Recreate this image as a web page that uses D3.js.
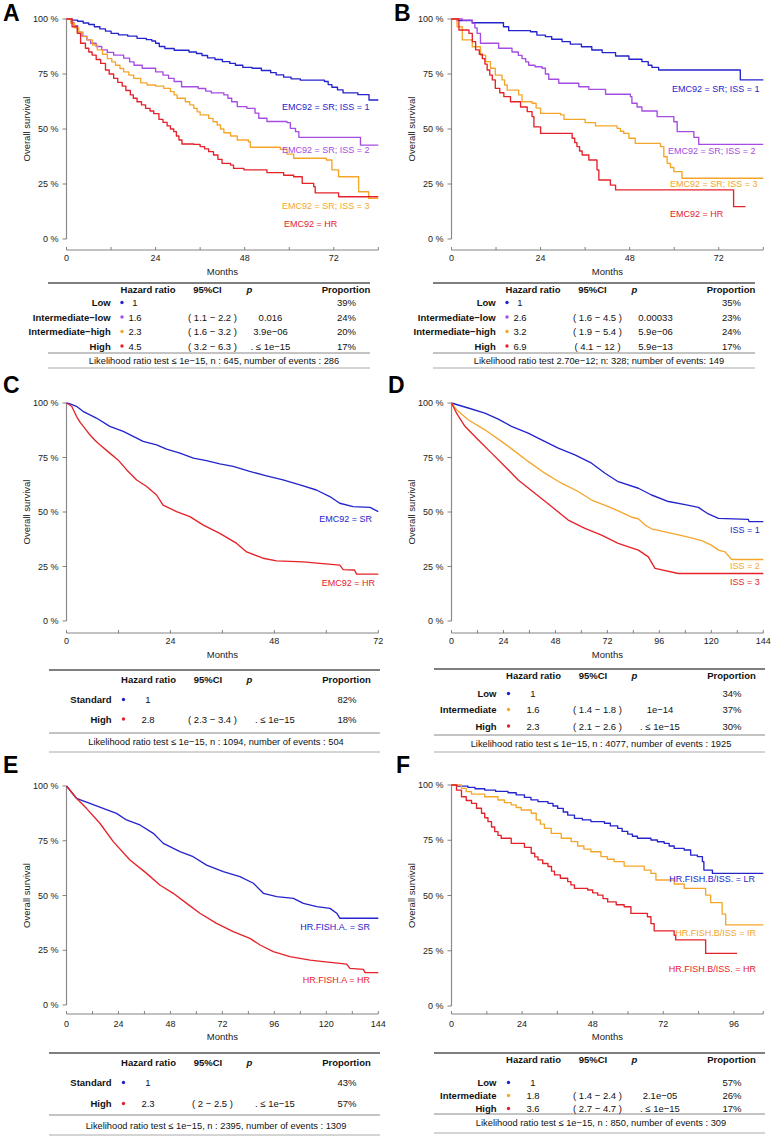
<!DOCTYPE html>
<html><head><meta charset="utf-8">
<script src="https://cdn.jsdelivr.net/npm/d3@7"></script>
<style>
body{margin:0;background:#fff}
svg{display:block}
text{font-family:"Liberation Sans",Arial,Helvetica,sans-serif}
</style>
</head><body>
<svg id="chart" width="774" height="1137"></svg>
<script>
// ---------------- DATA ----------------
const COL_BLUE = "#2424cc", COL_PURPLE = "#a64ce4", COL_ORANGE = "#f5a62a", COL_RED = "#e5222a";

const yTickValues = [0, 25, 50, 75, 100];
const yTickLabels = ["0 %", "25 %", "50 %", "75 %", "100 %"];

// Panel A
const A_iss1 = [[0,100],[1.5,99.5],[3,99],[4.5,98.2],[6,97.5],[7.5,96.5],[9,95.5],[10.5,94.5],[12,93.5],[14,92.8],[16.5,92.2],[19,91.2],[21.5,90.6],[23,90],[24,89],[25,87.5],[26.5,86.6],[29,85.8],[33,85],[35,84.3],[36.5,83.4],[38,82.3],[40,81.6],[42,80.6],[44,79.8],[45.5,79],[47.5,78],[50,77.6],[52.5,76.6],[55,75.6],[56.5,74.6],[58.5,73.6],[60.5,72.8],[63,72.2],[69.5,71.6],[70.5,70.2],[71.5,69],[73,67.8],[74.5,66.4],[78.5,65.6],[81.5,63.2],[84,63.2]];
const A_iss2 = [[0,100],[1.2,98.5],[2,97],[3,94],[4.2,92.2],[5.5,90.5],[6.5,89],[8,87.5],[9.5,86],[11,84.8],[12.7,83.6],[15.4,82.2],[17,80.5],[18.2,79],[20.4,77.6],[24,76],[26,74.5],[27.5,73],[29,71.6],[31,69.2],[35.5,68.4],[37.5,67.2],[39,66.4],[42.4,65.5],[43.5,64],[44.5,62.4],[46,60.2],[48.6,59.4],[50.8,57.2],[51.8,54.9],[54,53.4],[59.4,52.9],[60.3,50.3],[61.7,48.8],[62.6,46.2],[79.2,42.7],[84,42.7]];
const A_iss3 = [[0,100],[1.2,98],[2.2,96],[3.3,94],[4.5,92],[5.6,90.5],[7,88.2],[8.3,86],[9.7,84],[11,82],[12.2,80.5],[13.2,79],[14.4,77.5],[15.4,76],[16.8,74.5],[18.1,73],[20,71],[21.7,70],[24,69.5],[26.2,68.5],[28,67],[29,65.5],[29.8,64],[32,62.4],[33.2,61],[34.3,59.4],[35.2,57.8],[36,56.4],[38.3,54.8],[39.5,53.3],[40.6,51.8],[41.5,50],[42.4,48.3],[44.2,46.8],[46,45],[49,44.2],[49.5,41.7],[57.6,40.8],[59.4,38.6],[61.2,36.7],[70,35.9],[71.5,31.4],[73.3,28.3],[78.7,21.5],[81.4,18.5],[84,18.5]];
const A_hr = [[0,100],[1.5,96.5],[2.9,93.5],[3.8,89],[5.1,86.7],[6,85],[6.9,83.6],[8,81.6],[9.2,79.8],[10.5,76.8],[11.5,75],[12.7,73],[13.8,71.2],[15,69.5],[16,67.5],[17.2,65.5],[18,64],[19,62.4],[20.2,61],[21.3,59.4],[22.5,58.2],[23.5,57],[24.9,54.4],[26,53],[27.1,51.4],[28,50],[28.9,48.8],[29.6,46.8],[30.3,45],[31.1,43.2],[34.3,43],[36,42],[37.2,41],[38.3,39.7],[39.6,38.2],[40.8,36.2],[41.9,34.4],[44.2,33.6],[45,32.1],[47.8,31.4],[54,30.2],[58.5,29],[61.2,28.3],[63.5,25.3],[66.6,23.8],[67,21],[73.3,19.2],[84,19.2]];

// Panel B
const B_iss1 = [[0,100],[1.5,99.3],[5.6,98.3],[14,96.5],[15.4,94.7],[21.3,94.2],[23,92.7],[25.3,92],[27,90.8],[29.8,89.7],[32,88.6],[35,87.4],[37.8,85.9],[40.6,84.7],[44.2,83.2],[47.8,81.7],[51.3,80.6],[53,79],[54,78],[55.8,76.8],[77.8,72.3],[84,72.3]];
const B_iss2 = [[0,100],[2.9,99.5],[5.6,98],[6.3,96],[6.9,93.5],[7.8,89],[12.7,86.7],[16.3,85],[18,83.5],[19,82],[20,80.5],[20.8,79],[22.5,78.3],[24.4,77.6],[25.3,75],[26.2,72.6],[28.9,70.8],[34.3,69.2],[37,68],[41.5,65.8],[48.2,64.7],[48.6,61.7],[50,60],[51.3,58.2],[55.4,55.6],[59.9,53.3],[60.8,48.8],[65.3,46.2],[66.6,43],[84,43]];
const B_iss3 = [[0,100],[1.5,96.5],[2.9,90.5],[5.6,87.4],[7.8,83.6],[9.2,80.6],[10.5,77.6],[11.8,74.5],[13.6,72.3],[14.3,70],[15,67.7],[18.1,65.5],[19,62.4],[21.7,61.7],[22.8,59.5],[24,57.1],[29.4,56.4],[30.3,54.4],[36,52.9],[38.8,51.4],[44.6,50.3],[45.5,49],[46.4,48],[47.8,45.8],[49.5,43.5],[56.3,42],[57.2,37.4],[58.1,34.4],[59,32.5],[59.9,30.6],[62.1,27.6],[84,27.6]];
const B_hr = [[0,100],[2,95],[4.7,93.5],[5.6,89.7],[6.5,86],[7.5,84],[8.3,82],[9,79.5],[9.6,76.8],[10.3,74.5],[11,72.3],[11.8,68.5],[13,66.5],[14.1,64.7],[15.9,62.4],[18.6,60],[20.4,57.9],[21.7,55.6],[22.2,51],[24,48],[32.5,45.8],[33.2,43.8],[33.8,42],[34.5,40],[35.2,38.2],[37,35.9],[39.2,31.4],[39.7,26.8],[42.8,24.5],[44.2,22.3],[76,14.7],[79.2,14.7]];

// Panel C
const C_sr = [[0,100],[1,99.5],[2.3,98.5],[3.8,96.2],[6.9,93.1],[10,89.3],[13.1,87],[15.4,84.7],[17.7,82.4],[20.8,80.8],[23.1,78.8],[26.2,77],[29.3,74.7],[32.3,73.6],[35.4,72.1],[38.5,70.9],[42.3,68.6],[46.2,66.6],[50,64.7],[53.9,62.4],[57.7,60.1],[60.8,57.1],[63.1,54],[66.2,52.5],[70.1,52.1],[72,50.2]];
const C_hr = [[0,100],[1.2,98.5],[2.3,93.9],[3.2,91],[4.2,88.5],[5.4,85.4],[6.5,83],[7.7,80.8],[10,77],[11.9,73.9],[13.9,69.3],[16.2,64.7],[18.5,61.7],[20.8,57.8],[22.3,53.2],[25.4,50.2],[28.5,47.9],[31.6,44],[35.4,40.2],[39.3,35.6],[41.6,31.7],[45.4,28.8],[48.5,27.6],[54.7,27.1],[58.5,26.4],[63.1,25.6],[63.9,23.6],[66.5,23.4],[67,21.5],[72,21.5]];

// Panel D
const D_iss1 = [[0,100],[7.7,97.7],[15.4,95.4],[21.6,92.6],[27.7,89.3],[35.4,86.2],[41.6,83.1],[49.3,79.3],[57,76.2],[64.7,72.4],[70.9,67.8],[77,63.9],[86.3,60.9],[92.4,57.8],[100.2,54.8],[107.9,53.4],[114,52.1],[118.6,49.1],[123.3,47.1],[137.1,46.6],[137.4,45.6],[144,45.6]];
const D_iss2 = [[0,100],[2.3,96.9],[7.7,92.3],[15.4,87.7],[23.1,82.4],[29.3,77.8],[35.4,73.2],[43.1,67.8],[50.8,63.2],[58.5,59.4],[64.7,55.5],[72.4,52.5],[77,50.5],[83.2,47.6],[86.3,46.9],[89.4,44],[92.4,42.3],[101.7,40.2],[107.9,38.8],[115.6,36.9],[120,34.8],[123.3,32.5],[126.3,31.7],[129.4,28.2],[144,28.2]];
const D_iss3 = [[0,100],[2.3,95.4],[6.2,89.3],[12.3,83.1],[18.5,77],[24.7,70.9],[30.8,64.7],[38.5,58.6],[46.2,52.5],[53.9,46.3],[61.6,42.5],[69.3,39.4],[77,35.6],[86.3,32.5],[90.9,29.4],[94,24.1],[104.8,21.8],[144,21.8]];

// Panel E
const E_sr = [[0,100],[4.6,94.4],[10.8,92.1],[16.9,89.8],[23.1,87.5],[27.7,84.5],[33.9,82.2],[40.1,78.4],[44.7,73.8],[52.4,70],[58.5,67.7],[64.7,63.9],[72.4,60.9],[80.1,58.6],[86.3,55.6],[90.9,51],[97.1,49.5],[104.8,48.7],[109.4,46.4],[115.6,44.9],[121.7,44.1],[124.8,41.9],[126.3,39.6],[144,39.6]];
const E_hr = [[0,100],[4.6,94.4],[9.2,89.8],[15.4,83],[21.6,74.6],[29.3,66.2],[37,60.1],[43.1,54.8],[49.3,51],[55.5,46.4],[61.6,41.9],[69.3,37.3],[77,33.5],[84.7,30.4],[89.4,27.4],[95.5,24.4],[103.2,22.1],[112.5,20.5],[118.6,19.8],[129.4,18.7],[130.9,16.7],[137.1,16.3],[137.9,14.8],[144,14.8]];

// Panel F
const F_lr = [[0,100],[2,99.5],[5.6,98.9],[8,98.3],[11.3,97.7],[15,97.1],[19.2,96.5],[22,95.5],[24.8,94.4],[27,93.3],[29.4,92.5],[32.8,91.7],[34.5,90.5],[36.1,89.4],[38,87.8],[39.5,86.4],[41.8,84.9],[44.5,84.2],[47.4,83.4],[52,82.7],[54,81.5],[56.5,80.4],[58,79],[59.9,77.8],[61.5,76.8],[63.2,75.9],[67.8,75.1],[70,74.3],[72.3,73.6],[74,72.4],[75.7,71.3],[79.1,70.6],[81.3,68.3],[83.6,67.6],[85.3,65.3],[85.8,61.5],[88.7,60],[106,60]];
const F_ir = [[0,100],[3.4,98.5],[5,97],[6.8,95.9],[11.3,94.7],[15.8,93.2],[18,92],[20.3,91],[22,89.8],[23.7,88.7],[27.1,87.2],[28.8,84.2],[30.2,82.3],[31.6,80.4],[33.9,78.1],[37.3,75.9],[40.7,74.4],[42.9,72.4],[45,71],[47.4,69.8],[50.8,67.6],[53,66.4],[55.3,65.3],[58.7,63.3],[63.2,63.3],[65.5,61.5],[67.8,60],[69.5,57],[75.7,55.2],[79.1,53.2],[86.4,50.2],[88.1,46.8],[92,41.6],[93.2,36.7],[106,36.7]];
const F_hr = [[0,100],[1.7,97.7],[3.4,94.7],[5,93],[6.8,91.7],[8.5,89.5],[10.2,87.2],[11.3,85.2],[12.4,83.4],[13.6,81],[14.7,78.9],[15.8,77.2],[16.9,75.9],[20.3,73.6],[24.8,71.8],[27.1,69.1],[28.3,67.5],[29.4,66.1],[31,64.5],[32.8,63.1],[34,61],[35,59.3],[37,57.8],[39.5,56.3],[40.6,54.8],[41.8,53.2],[46.3,52.5],[48,51.2],[49.7,50.2],[51.5,48.6],[53.1,47.1],[56,45.8],[58.7,44.9],[61,41.9],[66.6,40.4],[67.8,37.3],[68.9,34],[75.7,32],[76.2,29.9],[86.4,23.8],[97.1,23.8]];

// Table contents
const A_groups = ["Low","Intermediate\u2212low","Intermediate\u2212high","High"];
const A_hrv = ["1","1.6","2.3","4.5"];
const A_ci = ["","( 1.1 \u2212 2.2 )","( 1.6 \u2212 3.2 )","( 3.2 \u2212 6.3 )"];
const A_p = ["","0.016","3.9e\u221206",". \u2264 1e\u221215"];
const A_prop = ["39%","24%","20%","17%"];
const A_lrt = "Likelihood ratio test \u2264 1e\u221215, n : 645, number of events : 286";

const B_groups = ["Low","Intermediate\u2212low","Intermediate\u2212high","High"];
const B_hrv = ["1","2.6","3.2","6.9"];
const B_ci = ["","( 1.6 \u2212 4.5 )","( 1.9 \u2212 5.4 )","( 4.1 \u2212 12 )"];
const B_p = ["","0.00033","5.9e\u221206","5.9e\u221213"];
const B_prop = ["35%","23%","24%","17%"];
const B_lrt = "Likelihood ratio test 2.70e\u221212; n: 328; number of events: 149";

const C_groups = ["Standard","High"];
const C_hrv = ["1","2.8"];
const C_ci = ["","( 2.3 \u2212 3.4 )"];
const C_p = ["",". \u2264 1e\u221215"];
const C_prop = ["82%","18%"];
const C_lrt = "Likelihood ratio test \u2264 1e\u221215, n : 1094, number of events : 504";

const D_groups = ["Low","Intermediate","High"];
const D_hrv = ["1","1.6","2.3"];
const D_ci = ["","( 1.4 \u2212 1.8 )","( 2.1 \u2212 2.6 )"];
const D_p = ["","1e\u221214",". \u2264 1e\u221215"];
const D_prop = ["34%","37%","30%"];
const D_lrt = "Likelihood ratio test \u2264 1e\u221215, n : 4077, number of events : 1925";

const E_groups = ["Standard","High"];
const E_hrv = ["1","2.3"];
const E_ci = ["","( 2 \u2212 2.5 )"];
const E_p = ["",". \u2264 1e\u221215"];
const E_prop = ["43%","57%"];
const E_lrt = "Likelihood ratio test \u2264 1e\u221215, n : 2395, number of events : 1309";

const F_groups = ["Low","Intermediate","High"];
const F_hrv = ["1","1.8","3.6"];
const F_ci = ["","( 1.4 \u2212 2.4 )","( 2.7 \u2212 4.7 )"];
const F_p = ["","2.1e\u221205",". \u2264 1e\u221215"];
const F_prop = ["57%","26%","17%"];
const F_lrt = "Likelihood ratio test \u2264 1e\u221215, n : 850, number of events : 309";

// ---------------- LAYOUT ----------------
const colsAB = {lab:110.7, dot:122, hr:135, hrHead:148, ci:212.5, ciHead:207.5, p:270.5, pHead:249.5, prop:346.5, propHead:346, x1:48, x2:370, lrX:214};
const colsCF = {lab:111.5, dot:123.5, hr:148, hrHead:148.5, ci:212.5, ciHead:208, p:275, pHead:249.5, prop:347, propHead:346.5, x1:49, x2:380, lrX:216};

const panels = [
  {letter:"A", lx:3, ly:21, ox:0, y100:19, y0:239, axisY:250, xmax:84, step:true,
   series:[[A_iss1,COL_BLUE],[A_iss2,COL_PURPLE],[A_iss3,COL_ORANGE],[A_hr,COL_RED]],
   labels:[["EMC92 = SR; ISS = 1",COL_BLUE,282,107,"start"],["EMC92 = SR; ISS = 2",COL_PURPLE,282,150,"start"],["EMC92 = SR; ISS = 3",COL_ORANGE,282,206,"start"],["EMC92 = HR",COL_RED,284,224,"start"]],
   tbl:{groups:A_groups,dots:[COL_BLUE,COL_PURPLE,COL_ORANGE,COL_RED],hr:A_hrv,ci:A_ci,p:A_p,prop:A_prop,lr:A_lrt},
   tg:{top:283, head:290, rows:[303,317.5,332,346.5], sep:353, lr:360.5, bot:368, months:272, tickLab:258}, cols:colsAB},
  {letter:"B", lx:394, ly:21, ox:385, y100:19, y0:239, axisY:250, xmax:84, step:true,
   series:[[B_iss1,COL_BLUE],[B_iss2,COL_PURPLE],[B_iss3,COL_ORANGE],[B_hr,COL_RED]],
   labels:[["EMC92 = SR; ISS = 1",COL_BLUE,287,89,"start"],["EMC92 = SR; ISS = 2",COL_PURPLE,283,151,"start"],["EMC92 = SR; ISS = 3",COL_ORANGE,285,184,"start"],["EMC92 = HR",COL_RED,285,214,"start"]],
   tbl:{groups:B_groups,dots:[COL_BLUE,COL_PURPLE,COL_ORANGE,COL_RED],hr:B_hrv,ci:B_ci,p:B_p,prop:B_prop,lr:B_lrt},
   tg:{top:283, head:290, rows:[303,317.5,332,346.5], sep:353, lr:360.5, bot:368, months:272, tickLab:258}, cols:colsAB},
  {letter:"C", lx:3, ly:393, ox:0, y100:403, y0:621, axisY:633, xmax:72, step:false,
   series:[[C_sr,COL_BLUE],[C_hr,COL_RED]],
   labels:[["EMC92 = SR",COL_BLUE,372,519,"end"],["EMC92 = HR",COL_RED,375,583,"end"]],
   tbl:{groups:C_groups,dots:[COL_BLUE,COL_RED],hr:C_hrv,ci:C_ci,p:C_p,prop:C_prop,lr:C_lrt},
   tg:{top:670, head:680, rows:[700,719.5], sep:733, lr:742, bot:752, months:655, tickLab:641}, cols:colsCF},
  {letter:"D", lx:388, ly:393, ox:385, y100:403, y0:621, axisY:633, xmax:144, step:false,
   series:[[D_iss1,COL_BLUE],[D_iss2,COL_ORANGE],[D_iss3,COL_RED]],
   labels:[["ISS = 1",COL_BLUE,345,530,"start"],["ISS = 2",COL_ORANGE,345,566,"start"],["ISS = 3",COL_RED,345,582,"start"]],
   tbl:{groups:D_groups,dots:[COL_BLUE,COL_ORANGE,COL_RED],hr:D_hrv,ci:D_ci,p:D_p,prop:D_prop,lr:D_lrt},
   tg:{top:669, head:676, rows:[694,710,726.5], sep:735, lr:743.5, bot:752, months:655, tickLab:641}, cols:colsCF},
  {letter:"E", lx:3, ly:773, ox:0, y100:786, y0:1005, axisY:1014, xmax:144, step:false,
   series:[[E_sr,COL_BLUE],[E_hr,COL_RED]],
   labels:[["HR.FISH.A. = SR",COL_BLUE,370,927,"end"],["HR.FISH.A = HR",COL_RED,370,980,"end"]],
   tbl:{groups:E_groups,dots:[COL_BLUE,COL_RED],hr:E_hrv,ci:E_ci,p:E_p,prop:E_prop,lr:E_lrt},
   tg:{top:1053, head:1063, rows:[1083,1104], sep:1115, lr:1126, bot:1135, months:1037, tickLab:1023.5}, cols:colsCF},
  {letter:"F", lx:396, ly:773, ox:385, y100:785, y0:1006, axisY:1014, xmax:106, step:true,
   series:[[F_lr,COL_BLUE],[F_ir,COL_ORANGE],[F_hr,COL_RED]],
   labels:[["HR.FISH.B/ISS. = LR",COL_BLUE,370,879,"end"],["HR.FISH.B/ISS = IR",COL_ORANGE,371,933,"end"],["HR.FISH.B/ISS. = HR",COL_RED,371,969,"end"]],
   tbl:{groups:F_groups,dots:[COL_BLUE,COL_ORANGE,COL_RED],hr:F_hrv,ci:F_ci,p:F_p,prop:F_prop,lr:F_lrt},
   tg:{top:1053, head:1060, rows:[1083,1096,1109], sep:1114, lr:1123, bot:1133, months:1037, tickLab:1023.5}, cols:colsCF}
];

// ---------------- DRAW ----------------
const svg = d3.select("#chart");
const TXT = "#222";

panels.forEach(P => {
  const g = svg.append("g");
  const X0 = P.ox + 66.5, X1 = P.ox + 378.3;
  const x = d3.scaleLinear().domain([0, P.xmax]).range([X0, X1]);
  const y = d3.scaleLinear().domain([0, 100]).range([P.y0, P.y100]);

  g.append("text").attr("x", P.lx).attr("y", P.ly).attr("font-size", 23).attr("font-weight", "bold")
    .attr("fill", "#000").text(P.letter);

  // y axis
  g.append("line").attr("x1", X0).attr("x2", X0).attr("y1", y(0)).attr("y2", y(100))
    .attr("stroke", "#8a8a8a").attr("stroke-width", 1.2);
  yTickValues.forEach((v, i) => {
    g.append("line").attr("x1", X0 - 4).attr("x2", X0).attr("y1", y(v)).attr("y2", y(v))
      .attr("stroke", "#666").attr("stroke-width", 0.8);
    g.append("text").attr("x", X0 - 8).attr("y", y(v)).attr("dy", "0.35em")
      .attr("text-anchor", "end").attr("font-size", 9).attr("fill", TXT).text(yTickLabels[i]);
  });
  g.append("text").attr("transform", `translate(${P.ox + 30},${(y(0) + y(100)) / 2}) rotate(-90)`)
    .attr("text-anchor", "middle").attr("font-size", 9.5).attr("fill", TXT).text("Overall survival");

  // x axis
  g.append("line").attr("x1", X0).attr("x2", X1).attr("y1", P.axisY).attr("y2", P.axisY)
    .attr("stroke", "#666").attr("stroke-width", 0.8);
  const ticks = d3.range(0, P.xmax + 0.01, 12);
  ticks.forEach(t => {
    g.append("line").attr("x1", x(t)).attr("x2", x(t)).attr("y1", P.axisY - 3).attr("y2", P.axisY)
      .attr("stroke", "#666").attr("stroke-width", 0.8);
    if (t % 24 === 0) {
      g.append("text").attr("x", x(t)).attr("y", P.tg.tickLab).attr("dy", "0.35em")
        .attr("text-anchor", "middle").attr("font-size", 9).attr("fill", TXT).text(t);
    }
  });
  if (P.xmax % 12 !== 0) {
    g.append("line").attr("x1", X1).attr("x2", X1).attr("y1", P.axisY - 3).attr("y2", P.axisY)
      .attr("stroke", "#666").attr("stroke-width", 0.8);
  }
  g.append("text").attr("x", (X0 + X1) / 2).attr("y", P.tg.months).attr("dy", "0.35em")
    .attr("text-anchor", "middle").attr("font-size", 9.5).attr("fill", TXT).text("Months");

  // curves
  const line = d3.line().x(d => x(d[0])).y(d => y(d[1]))
    .curve(P.step ? d3.curveStepAfter : d3.curveLinear);
  P.series.forEach(([data, col]) => {
    g.append("path").datum(data).attr("d", line).attr("fill", "none")
      .attr("stroke", col).attr("stroke-width", 1.35).attr("stroke-linejoin", "round");
  });

  P.labels.forEach(([t, col, lx, ly, anc]) => {
    g.append("text").attr("x", P.ox + lx).attr("y", ly).attr("dy", "0.35em")
      .attr("text-anchor", anc).attr("font-size", 9).attr("fill", col).text(t);
  });

  // table
  const C = P.cols, T = P.tbl, G = P.tg;
  const tx = v => P.ox + v;
  g.append("line").attr("x1", tx(C.x1)).attr("x2", tx(C.x2)).attr("y1", G.top).attr("y2", G.top)
    .attr("stroke", "#555").attr("stroke-width", 1.3);
  g.append("line").attr("x1", tx(C.x1)).attr("x2", tx(C.x2)).attr("y1", G.sep).attr("y2", G.sep)
    .attr("stroke", "#888").attr("stroke-width", 1);
  g.append("line").attr("x1", tx(C.x1)).attr("x2", tx(C.x2)).attr("y1", G.bot).attr("y2", G.bot)
    .attr("stroke", "#aaa").attr("stroke-width", 1);

  const head = (t, cx, italic) => g.append("text").attr("x", tx(cx)).attr("y", G.head).attr("dy", "0.35em")
    .attr("text-anchor", "middle").attr("font-size", 9.5).attr("font-weight", "bold")
    .attr("font-style", italic ? "italic" : "normal").attr("fill", "#111").text(t);
  head("Hazard ratio", C.hrHead);
  head("95%CI", C.ciHead);
  head("p", C.pHead, true);
  head("Proportion", C.propHead);

  T.groups.forEach((grp, i) => {
    const ry = G.rows[i];
    g.append("text").attr("x", tx(C.lab)).attr("y", ry).attr("dy", "0.35em").attr("text-anchor", "end")
      .attr("font-size", 9.5).attr("font-weight", "bold").attr("fill", "#111").text(grp);
    g.append("circle").attr("cx", tx(C.dot)).attr("cy", ry - 0.5).attr("r", 1.7).attr("fill", T.dots[i]);
    [[T.hr, C.hr], [T.ci, C.ci], [T.p, C.p], [T.prop, C.prop]].forEach(([arr, cx]) => {
      g.append("text").attr("x", tx(cx)).attr("y", ry).attr("dy", "0.35em").attr("text-anchor", "middle")
        .attr("font-size", 9.5).attr("fill", "#111").text(arr[i]);
    });
  });
  g.append("text").attr("x", tx(C.lrX)).attr("y", G.lr).attr("dy", "0.35em").attr("text-anchor", "middle")
    .attr("font-size", 9.3).attr("fill", "#111").text(T.lr);
});
</script>
</body></html>
